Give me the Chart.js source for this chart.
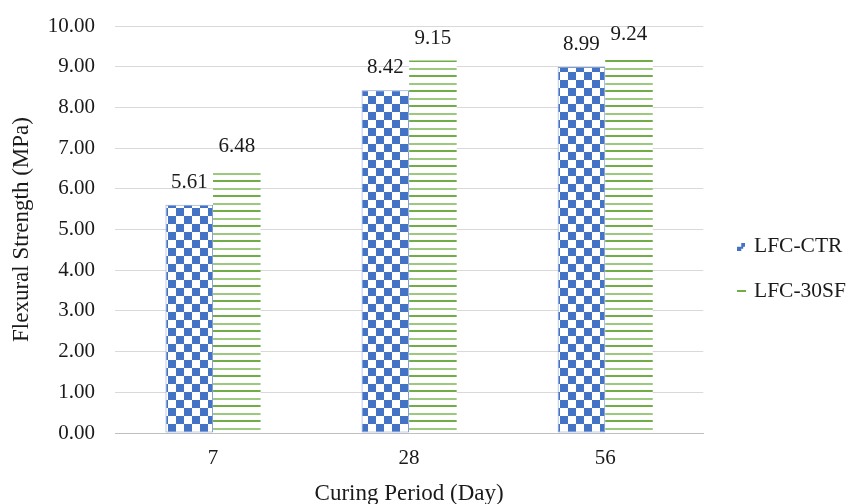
<!DOCTYPE html>
<html>
<head>
<meta charset="utf-8">
<script src="https://cdn.jsdelivr.net/npm/chart.js@4.4.1/dist/chart.umd.min.js"></script>
<style>
  html, body { margin: 0; padding: 0; background: #fff; overflow: hidden; }
  #wrap { width: 856px; height: 504px; overflow: hidden; }
</style>
</head>
<body>
<div id="wrap"><canvas id="c" width="856" height="512"></canvas></div>
<script>
const categories = ['7', '28', '56'];
const seriesNames = ['LFC-CTR', 'LFC-30SF'];
const ctrValues = [5.61, 8.42, 8.99];
const sfValues = [6.48, 9.15, 9.24];
const yTicks = [0, 1, 2, 3, 4, 5, 6, 7, 8, 9, 10];

const BLUE = '#4472C4';
const GREEN = '#70AD47';
const FONT = "'Liberation Serif', 'Times New Roman', serif";

function checkerPattern(ctx) {
  const t = document.createElement('canvas');
  t.width = 16; t.height = 16;
  const g = t.getContext('2d');
  g.fillStyle = '#fff'; g.fillRect(0, 0, 16, 16);
  g.fillStyle = BLUE;
  g.fillRect(0, 0, 8, 8);
  g.fillRect(8, 8, 8, 8);
  return ctx.createPattern(t, 'repeat');
}
function linePattern(ctx) {
  const t = document.createElement('canvas');
  t.width = 8; t.height = 15;
  const g = t.getContext('2d');
  g.fillStyle = '#fff'; g.fillRect(0, 0, 8, 15);
  g.fillStyle = GREEN; g.fillRect(0, 0, 8, 2);
  g.fillStyle = '#9dc97f'; g.fillRect(0, 8, 8, 2);
  return ctx.createPattern(t, 'repeat');
}
function legendBlue() {
  const t = document.createElement('canvas');
  t.width = 8; t.height = 8;
  const g = t.getContext('2d');
  g.fillStyle = BLUE;
  g.fillRect(4, 0, 4, 4);
  g.fillRect(0, 4, 4, 4);
  g.fillRect(4, 4, 2, 2);
  return t;
}
function legendGreen() {
  const t = document.createElement('canvas');
  t.width = 9; t.height = 2;
  const g = t.getContext('2d');
  g.fillStyle = GREEN; g.fillRect(0, 0, 9, 2);
  return t;
}

const canvas = document.getElementById('c');
const ctx = canvas.getContext('2d');
const markers = [legendBlue(), legendGreen()];

const valueLabels = {
  id: 'valueLabels',
  afterDatasetsDraw(chart) {
    const c = chart.ctx;
    c.save();
    c.font = '21px ' + FONT;
    c.fillStyle = '#1a1a1a';
    c.textAlign = 'center';
    c.textBaseline = 'alphabetic';
    chart.data.datasets.forEach((ds, i) => {
      const meta = chart.getDatasetMeta(i);
      meta.data.forEach((el, j) => {
        c.fillText(ds.data[j].toFixed(2), el.x, el.y - 17);
      });
    });
    c.restore();
  }
};

new Chart(ctx, {
  type: 'bar',
  data: {
    labels: categories,
    datasets: [
      { label: seriesNames[0], data: ctrValues, backgroundColor: checkerPattern(ctx), borderColor: 'rgba(68,114,196,0.7)', borderWidth: 1, borderSkipped: false },
      { label: seriesNames[1], data: sfValues, backgroundColor: linePattern(ctx), borderWidth: 0 }
    ]
  },
  options: {
    responsive: false,
    animation: false,
    events: [],
    layout: { padding: { top: 26, left: 0, right: 0, bottom: 0 } },
    datasets: { bar: { categoryPercentage: 0.485, barPercentage: 1.0 } },
    plugins: {
      tooltip: { enabled: false },
      legend: {
        position: 'right',
        labels: {
          usePointStyle: true,
          pointStyleWidth: 4,
          padding: 23,
          color: '#1a1a1a',
          font: { family: FONT, size: 21.5 },
          generateLabels(chart) {
            return Chart.defaults.plugins.legend.labels.generateLabels(chart).map((it, i) => {
              it.pointStyle = markers[i];
              return it;
            });
          }
        }
      }
    },
    scales: {
      x: {
        afterFit(axis) { axis.height = 79; },
        grid: { display: false, drawTicks: false },
        border: { display: true, color: '#bfbfbf', width: 1 },
        ticks: { color: '#1a1a1a', font: { family: FONT, size: 21 }, padding: 13 },
        title: { display: true, text: 'Curing Period (Day)', color: '#1a1a1a', font: { family: FONT, size: 23 }, padding: { top: 4, bottom: 4 } }
      },
      y: {
        min: 0, max: 10,
        afterBuildTicks(axis) { axis.ticks = yTicks.map(v => ({ value: v })); },
        afterFit(axis) { axis.width = 115; axis.paddingTop = 0; axis.paddingBottom = 0; },
        grid: { color: '#d9d9d9', lineWidth: 1, drawTicks: false },
        border: { display: false },
        ticks: { color: '#1a1a1a', font: { family: FONT, size: 21 }, padding: 20, callback: v => Number(v).toFixed(2) },
        title: { display: true, text: 'Flexural Strength (MPa)', color: '#1a1a1a', font: { family: FONT, size: 23 }, padding: { top: 8, bottom: 8 } }
      },
      y2: {
        position: 'right', min: 0, max: 10,
        grid: { display: false, drawTicks: false },
        border: { display: false },
        ticks: { display: false },
        afterFit(axis) { axis.width = 13; axis.paddingTop = 0; axis.paddingBottom = 0; }
      }
    }
  },
  plugins: [valueLabels]
});
</script>
</body>
</html>
